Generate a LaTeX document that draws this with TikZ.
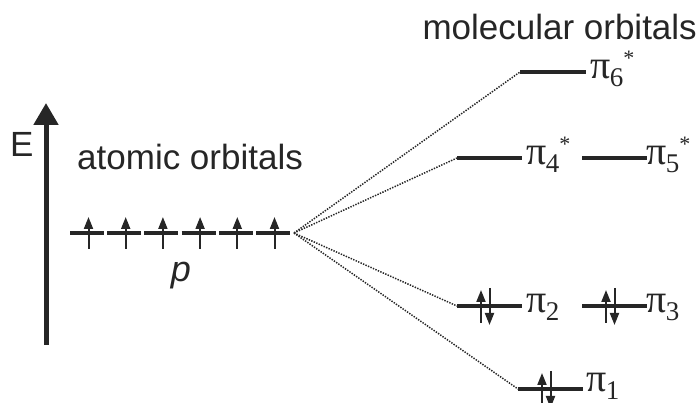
\documentclass[tikz,border=0pt]{standalone}
\usepackage{fontspec}
\setmainfont{Liberation Serif}
\setsansfont{Liberation Sans}
\usetikzlibrary{arrows.meta}
\definecolor{ink}{HTML}{262626}
\newcommand{\mopi}[2]{{\fontsize{40}{40}\selectfont π}\kern-0.5pt\raisebox{-8pt}[\height][0pt]{\fontsize{27}{27}\selectfont #1}\raisebox{13pt}{\fontsize{22}{22}\selectfont #2}}
\begin{document}
\begin{tikzpicture}[x=1pt,y=-1pt,
  level/.style={line width=4pt, draw=ink},
  spin/.style={line width=2pt, draw=ink, -{Triangle[width=9pt,length=12pt]}},
  conn/.style={line width=1.5pt, draw=ink, dash pattern=on 1.4pt off 1.3pt},
  sanslabel/.style={font=\sffamily\fontsize{35}{42}\selectfont, text=ink, inner sep=0pt},
  pilabel/.style={inner sep=0pt, anchor=base west, text=ink}]
\useasboundingbox (0,0) rectangle (697,403);

% energy axis
\coordinate (axbot) at (46,345);
\coordinate (axtop) at (46,103);
\draw[line width=5pt, ink, -{Triangle[width=24pt,length=22pt]}] (axbot) -- (axtop);
\node[sanslabel, anchor=base west] (E) at (10,157) {E};

% titles
\node[sanslabel, anchor=base west] (ao) at (77,170) {atomic orbitals};
\node[sanslabel, anchor=base east] (mo) at (697,40) {molecular orbitals};

% atomic p orbitals
\foreach \i in {0,...,5} {
  \pgfmathsetmacro\xs{70+37.2*\i}
  \draw[level] (\xs,233) -- ++(34,0);
  \draw[spin] (\xs+18.5,249) -- (\xs+18.5,217);
}
\coordinate (src) at (294,233);
\node[sanslabel, font=\sffamily\itshape\fontsize{36}{42}\selectfont, anchor=base] (p) at (181,282) {p};

% molecular orbitals
\draw[level] (520,72) coordinate (L6) -- (586,72);
\node[pilabel] (pi6) at (590,79) {\mopi{6}{*}};

\draw[level] (457,158) coordinate (L4) -- (522,158);
\node[pilabel] (pi4) at (526,165) {\mopi{4}{*}};
\draw[level] (582,158) coordinate (L5) -- (647,158);
\node[pilabel] (pi5) at (646,165) {\mopi{5}{*}};

\draw[level] (457,306) coordinate (L2) -- (522,306);
\node[pilabel] (pi2) at (526,313) {\mopi{2}{}};
\draw[level] (582,306) coordinate (L3) -- (647,306);
\node[pilabel] (pi3) at (646,313) {\mopi{3}{}};

\draw[level] (518,389) coordinate (L1) -- (583,389);
\node[pilabel] (pi1) at (586,392) {\mopi{1}{}};

% electron pairs
\foreach \x/\y in {457/306, 582/306, 518/389} {
  \draw[spin] (\x+24,\y+17) -- (\x+24,\y-16);
  \draw[spin] (\x+32.5,\y-18) -- (\x+32.5,\y+19);
}

% correlation lines
\foreach \t in {L6,L4,L2,L1}
  \draw[conn] (src) -- (\t);
\end{tikzpicture}
\end{document}
